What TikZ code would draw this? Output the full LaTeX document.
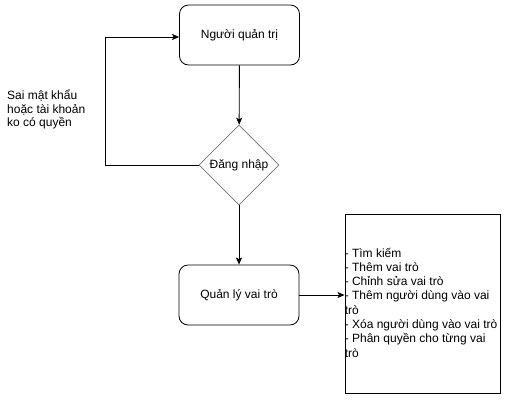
\documentclass[tikz,border=0pt]{standalone}
\usepackage{fontspec}
\setmainfont{Liberation Sans}
\usetikzlibrary{arrows.meta,shapes.geometric}
\begin{document}
\begin{tikzpicture}[x=1pt,y=-1pt,
  every node/.style={font=\fontsize{12}{14.3}\selectfont},
  rbox/.style={draw=black,line width=0.8pt,rounded corners=9pt,minimum width=120pt,minimum height=60pt,inner sep=0pt},
  dia/.style={draw=black!55,line width=0.8pt,diamond,minimum width=80pt,minimum height=80pt,inner sep=0pt,aspect=1},
  arr/.style={-{Stealth[length=7pt,width=6pt,inset=1.5pt]},line width=0.9pt},
  lbl/.style={align=left,inner sep=0pt,anchor=north west}]
\useasboundingbox (0,0) rectangle (511,400);
\node[rbox] (admin) at (239.5,35) {Người quản trị};
\node[dia] (login) at (239,165) {Đăng nhập};
\node[rbox] (role) at (239,295) {Quản lý vai trò};
\node[draw=black,line width=0.9pt,minimum width=155pt,minimum height=179pt,inner sep=0pt] (list) at (422.5,303.5) {};
\node[lbl,anchor=west] (listtxt) at ([yshift=1pt]list.west) {- Tìm kiếm\\- Thêm vai trò\\- Chỉnh sửa vai trò\\- Thêm người dùng vào vai\\trò\\- Xóa người dùng vào vai trò\\- Phân quyền cho từng vai\\trò};
\node[lbl,font=\fontsize{12}{13.5}\selectfont] (err) at (7,90) {Sai mật khẩu\\hoặc tài khoản\\ko có quyền};
\coordinate (c1) at (105,165);
\coordinate (c2) at (105,37);
\draw[arr] (admin) -- (login);
\draw[arr] (login) -- (role);
\draw[arr] (role.east) -- (role.east -| list.west);
\draw[arr] (login.west) -- (c1) -- (c2) -- (admin.west |- c2);
\end{tikzpicture}
\end{document}
